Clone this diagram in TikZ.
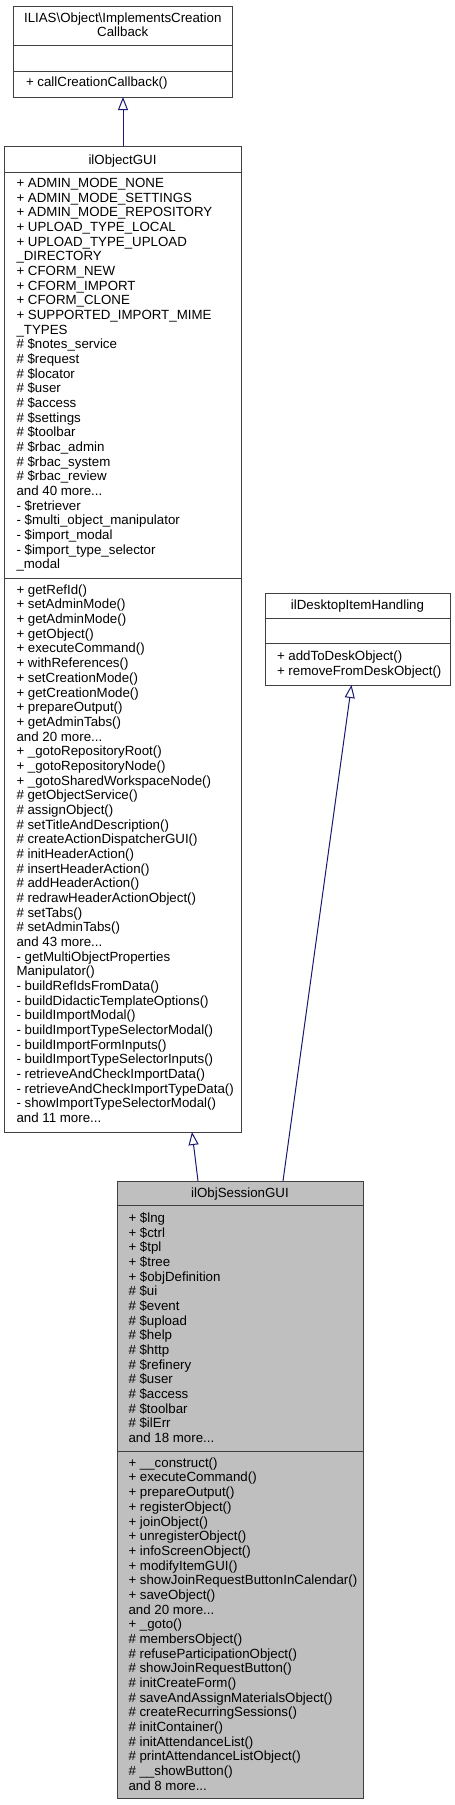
\documentclass[tikz,border=0pt]{standalone}
\usepackage{fontspec}
\setmainfont{Liberation Sans}
\usetikzlibrary{arrows.meta}
\definecolor{edgeblue}{HTML}{191970}
\definecolor{boxline}{HTML}{404040}
\definecolor{sessfill}{HTML}{BFBFBF}
\newcommand\mdots{...}
\newcommand\umlrows[4]{\foreach \t [count=\i from 0] in {#4} {\node[row] (#1\i) at (#2,{#3+\i*14.67}) {\t};}}
\begin{document}
\begin{tikzpicture}[x=1pt,y=-1pt,
  font=\fontsize{13.3}{14.67}\selectfont,
  row/.style={anchor=base west,inner sep=0pt,outer sep=0pt},
  ttl/.style={anchor=base,inner sep=0pt,outer sep=0pt},
  cls/.style={draw=boxline,line width=1pt,anchor=north west,inner sep=0pt,outer sep=0pt},
  sepline/.style={draw=boxline,line width=1pt},
  inh/.style={draw=edgeblue,line width=1pt,-{Triangle[open,length=13pt,width=10pt,fill=white]}}]
\useasboundingbox (0,0) rectangle (455,1805);

% ILIAS\Object\ImplementsCreationCallback
\node[cls,minimum width=218.5pt,minimum height=91pt] (cb) at (13.5,6) {};
\draw[sepline] (13.5,45) -- (232,45);
\draw[sepline] (13.5,71) -- (232,71);
\node[ttl] (cbt1) at (122.75,22.5) {ILIAS\textbackslash Object\textbackslash ImplementsCreation};
\node[ttl] (cbt2) at (122.75,36.8) {Callback};
\umlrows{cbm}{26}{86.5}{+ callCreationCallback()}

% ilObjectGUI
\node[cls,minimum width=237pt,minimum height=986pt] (og) at (4,146) {};
\draw[sepline] (4,172) -- (241,172);
\draw[sepline] (4,578) -- (241,578);
\node[ttl] (ogt) at (122.5,164.5) {ilObjectGUI};
\umlrows{oga}{16.5}{187.5}{+ ADMIN\_MODE\_NONE,+ ADMIN\_MODE\_SETTINGS,+ ADMIN\_MODE\_REPOSITORY,+ UPLOAD\_TYPE\_LOCAL,+ UPLOAD\_TYPE\_UPLOAD,\_DIRECTORY,+ CFORM\_NEW,+ CFORM\_IMPORT,+ CFORM\_CLONE,+ SUPPORTED\_IMPORT\_MIME,\_TYPES,\# \$notes\_service,\# \$request,\# \$locator,\# \$user,\# \$access,\# \$settings,\# \$toolbar,\# \$rbac\_admin,\# \$rbac\_system,\# \$rbac\_review,and 40 more\mdots,- \$retriever,- \$multi\_object\_manipulator,- \$import\_modal,- \$import\_type\_selector,\_modal}
\umlrows{ogm}{16.5}{594.3}{+ getRefId(),+ setAdminMode(),+ getAdminMode(),+ getObject(),+ executeCommand(),+ withReferences(),+ setCreationMode(),+ getCreationMode(),+ prepareOutput(),+ getAdminTabs(),and 20 more\mdots,+ \_gotoRepositoryRoot(),+ \_gotoRepositoryNode(),+ \_gotoSharedWorkspaceNode(),\# getObjectService(),\# assignObject(),\# setTitleAndDescription(),\# createActionDispatcherGUI(),\# initHeaderAction(),\# insertHeaderAction(),\# addHeaderAction(),\# redrawHeaderActionObject(),\# setTabs(),\# setAdminTabs(),and 43 more\mdots,- getMultiObjectProperties,Manipulator(),- buildRefIdsFromData(),- buildDidacticTemplateOptions(),- buildImportModal(),- buildImportTypeSelectorModal(),- buildImportFormInputs(),- buildImportTypeSelectorInputs(),- retrieveAndCheckImportData(),- retrieveAndCheckImportTypeData(),- showImportTypeSelectorModal(),and 11 more\mdots}

% ilDesktopItemHandling
\node[cls,minimum width=185pt,minimum height=91.5pt] (dk) at (265,593.5) {};
\draw[sepline] (265,618) -- (450,618);
\draw[sepline] (265,643) -- (450,643);
\node[ttl] (dkt) at (357.5,609.5) {ilDesktopItemHandling};
\umlrows{dkm}{277}{660.5}{+ addToDeskObject(),+ removeFromDeskObject()}

% ilObjSessionGUI
\node[cls,fill=sessfill,minimum width=246pt,minimum height=617pt] (ss) at (117,1181) {};
\draw[sepline] (117,1205) -- (363,1205);
\draw[sepline] (117,1451) -- (363,1451);
\node[ttl] (sst) at (240,1197.5) {ilObjSessionGUI};
\umlrows{ssa}{128.5}{1222.5}{+ \$lng,+ \$ctrl,+ \$tpl,+ \$tree,+ \$objDefinition,\# \$ui,\# \$event,\# \$upload,\# \$help,\# \$http,\# \$refinery,\# \$user,\# \$access,\# \$toolbar,\# \$ilErr,and 18 more\mdots}
\umlrows{ssm}{128.5}{1467.3}{+ \_\_construct(),+ executeCommand(),+ prepareOutput(),+ registerObject(),+ joinObject(),+ unregisterObject(),+ infoScreenObject(),+ modifyItemGUI(),+ showJoinRequestButtonInCalendar(),+ saveObject(),and 20 more\mdots,+ \_goto(),\# membersObject(),\# refuseParticipationObject(),\# showJoinRequestButton(),\# initCreateForm(),\# saveAndAssignMaterialsObject(),\# createRecurringSessions(),\# initContainer(),\# initAttendanceList(),\# printAttendanceListObject(),\# \_\_showButton(),and 8 more\mdots}

% inheritance connectors
\draw[inh] ([xshift=119pt]og.north west) -- ([xshift=109.5pt]cb.south west);
\draw[inh] ([xshift=81pt]ss.north west) -- ([xshift=188pt]og.south west);
\draw[inh] ([xshift=166pt]ss.north west) -- ([xshift=86.5pt]dk.south west);
\end{tikzpicture}
\end{document}
